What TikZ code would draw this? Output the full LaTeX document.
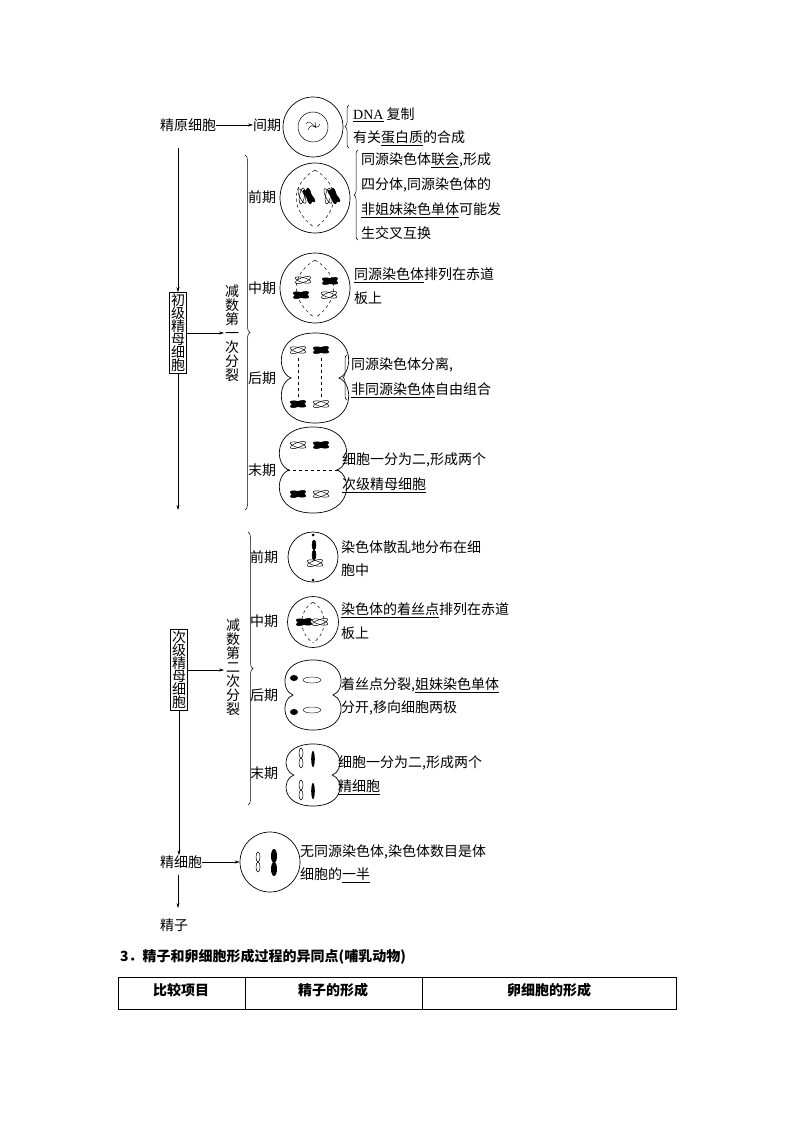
\documentclass[tikz,border=0pt]{standalone}
\usepackage{fontspec}
\setmainfont{Noto Sans CJK SC}
\newfontfamily\latinf{Liberation Serif}
\usetikzlibrary{arrows.meta,decorations.pathreplacing}
\newcommand\peanut[4]{\draw[cell] (#1,#2-#4) .. controls (#1+1.35*#3,#2-#4) and (#1+1.3*#3,#2-0.12*#4) .. (#1+0.8*#3,#2) .. controls (#1+1.3*#3,#2+0.12*#4) and (#1+1.35*#3,#2+#4) .. (#1,#2+#4) .. controls (#1-1.35*#3,#2+#4) and (#1-1.3*#3,#2+0.12*#4) .. (#1-0.8*#3,#2) .. controls (#1-1.3*#3,#2-0.12*#4) and (#1-1.35*#3,#2-#4) .. cycle;}
\newcommand\chrX[4]{\begin{scope}[shift={(#1,#2)},rotate=#3]
\draw[#4,line width=0.5pt] (0,0) ellipse (2.5 and 8) ; \draw[#4,line width=0.5pt,rotate=35] (0,0) ellipse (2.5 and 8);
\end{scope}}
\newcommand\chrI[4]{\begin{scope}[shift={(#1,#2)},rotate=#3]
\draw[#4,line width=0.5pt] (0,-5) ellipse (2 and 5); \draw[#4,line width=0.5pt] (0,5) ellipse (2 and 5);
\end{scope}}
\begin{document}
\begin{tikzpicture}[x=1pt,y=-1pt,
  txt/.style={font=\fontsize{14}{16}\selectfont,inner sep=0pt,anchor=west},
  cell/.style={draw,line width=0.7pt},
  spin/.style={dashed,line width=0.5pt},
  arr/.style={-{Stealth[length=5pt,width=3pt]},line width=0.5pt},
  brc/.style={decorate,decoration={brace,amplitude=4pt,mirror},line width=0.5pt},
  vbox/.style={draw,line width=0.6pt,inner sep=1.5pt,font=\fontsize{14}{16}\selectfont,align=center}]
\useasboundingbox (0,0) rectangle (794,1123);
% --- top
\node[txt] (jy) at (160,125) {精原细胞};
\node[txt] (jq) at (253,125) {间期};
\draw[arr] (jy.east) -- (jq.west);
\node[circle,draw,line width=0.7pt,minimum size=60pt,inner sep=0] (c0) at (313,127) {};
\node[circle,draw,line width=0.5pt,minimum size=30pt,inner sep=0] (c0i) at (313,127) {};
\draw[line width=0.4pt] (306,124) .. controls (310,116) and (316,134) .. (320,124) (308,130) .. controls (313,118) and (318,136) .. (315,122);
\draw[brc] (349,105) -- (349,148);
\node[txt] (t0a) at (353,115) {\underline{\latinf DNA} 复制};
\node[txt] (t0b) at (353,138) {有关\underline{蛋白质}的合成};
% --- primary box
\node[vbox] (b1) at (178,333) {初\\[-3pt]级\\[-3pt]精\\[-3pt]母\\[-3pt]细\\[-3pt]胞};
\coordinate (top1) at (178,148);
\coordinate (bot1) at (178,510);
\draw[arr] (top1) -- (b1.north);
\draw[arr] (b1.south) -- (bot1);
\coordinate (br1) at (224,333);
\draw[arr] (b1.east) -- (br1);
\draw[brc,decoration={amplitude=5pt}] (245,510) -- (245,155);
\node[font=\fontsize{14}{16}\selectfont,align=center,inner sep=0] (m1) at (232,333) {减\\[-2pt]数\\[-2pt]第\\[-2pt]一\\[-2pt]次\\[-2pt]分\\[-2pt]裂};
% prophase I
\node[txt] (l1) at (248,197) {前期};
\node[circle,cell,minimum size=70pt,inner sep=0] (c1) at (315,198) {};
\draw[spin] (315,170) .. controls (290,185) and (290,210) .. (315,228) (315,170) .. controls (340,185) and (340,210) .. (315,228);
\chrX{302}{196}{-10}{draw} \chrX{309}{196}{10}{fill}
\chrX{328}{196}{-10}{draw} \chrX{334}{196}{10}{fill}
\draw[brc,decoration={amplitude=4pt,mirror}] (358,150) -- (358,240);
\node[txt] (t1a) at (361,160) {同源染色体\underline{联会},形成};
\node[txt] (t1b) at (361,185) {四分体,同源染色体的};
\node[txt] (t1c) at (361,210) {\underline{非姐妹染色单体}可能发};
\node[txt] (t1d) at (361,233) {生交叉互换};
% metaphase I
\node[txt] (l2) at (248,288) {中期};
\node[circle,cell,minimum size=70pt,inner sep=0] (c2) at (315,288) {};
\draw[spin] (315,260) .. controls (290,275) and (290,300) .. (315,318) (315,260) .. controls (340,275) and (340,300) .. (315,318);
\chrX{303}{280}{75}{draw} \chrX{330}{281}{75}{fill}
\chrX{301}{295}{75}{fill} \chrX{329}{295}{75}{draw}
\node[txt] (t2a) at (354,275) {\underline{同源染色体}排列在赤道};
\node[txt] (t2b) at (354,298) {板上};
% anaphase I
\node[txt] (l3) at (248,378) {后期};
\peanut{315}{378}{30}{45}
\chrX{298}{350}{75}{draw} \chrX{321}{350}{75}{fill}
\chrX{298}{404}{75}{fill} \chrX{321}{404}{75}{draw}
\draw[spin] (298,358) -- (298,398) (321,358) -- (321,398);
\draw[brc] (347,355) -- (347,400);
\node[txt] (t3a) at (351,365) {同源染色体分离,};
\node[txt] (t3b) at (351,390) {\underline{非同源染色体}自由组合};
% telophase I
\node[txt] (l4) at (248,470) {末期};
\peanut{313}{470}{30}{43}
\draw[spin] (287,470) -- (339,470);
\chrX{298}{445}{75}{draw} \chrX{321}{445}{75}{fill}
\chrX{298}{494}{75}{fill} \chrX{321}{494}{75}{draw}
\node[txt] (t4a) at (342,460) {细胞一分为二,形成两个};
\node[txt] (t4b) at (342,485) {\underline{次级精母细胞}};
% --- secondary box
\node[vbox] (b2) at (179,670) {次\\[-3pt]级\\[-3pt]精\\[-3pt]母\\[-3pt]细\\[-3pt]胞};
\coordinate (br2) at (224,670);
\draw[arr] (b2.east) -- (br2);
\draw[brc,decoration={amplitude=5pt}] (248,805) -- (248,532);
\node[font=\fontsize{14}{16}\selectfont,align=center,inner sep=0] (m2) at (233,667) {减\\[-2pt]数\\[-2pt]第\\[-2pt]二\\[-2pt]次\\[-2pt]分\\[-2pt]裂};
% prophase II
\node[txt] (l5) at (250,557) {前期};
\node[circle,cell,minimum size=50pt,inner sep=0] (c5) at (313,557) {};
\fill (313,535) circle (1.5); \fill (313,580) circle (1.5);
\chrI{314}{550}{0}{fill} \chrX{315}{563}{75}{draw}
\node[txt] (t5a) at (341,547) {染色体散乱地分布在细};
\node[txt] (t5b) at (341,570) {胞中};
% metaphase II
\node[txt] (l6) at (250,621) {中期};
\node[circle,cell,minimum size=51pt,inner sep=0] (c6) at (313,622) {};
\draw[spin] (313,602) .. controls (298,612) and (298,632) .. (313,643) (313,602) .. controls (328,612) and (328,632) .. (313,643);
\chrX{304}{622}{75}{fill} \chrX{320}{622}{75}{draw}
\node[txt] (t6a) at (341,610) {\underline{染色体的着丝点}排列在赤道};
\node[txt] (t6b) at (341,633) {板上};
% anaphase II
\node[txt] (l7) at (250,695) {后期};
\peanut{313}{695}{25}{35}
\fill (294,678) ellipse (4 and 3); \draw (312,680) ellipse (9 and 3);
\fill (294,712) ellipse (4 and 3); \draw (312,710) ellipse (9 and 3);
\node[txt] (t7a) at (341,685) {着丝点分裂,\underline{姐妹染色单体}};
\node[txt] (t7b) at (341,708) {分开,移向细胞两极};
% telophase II
\node[txt] (l8) at (250,773) {末期};
\peanut{313}{775}{24}{31}
\chrI{301}{758}{0}{draw} \fill (313,759) ellipse (1.8 and 8);
\chrI{301}{790}{0}{draw} \fill (313,791) ellipse (1.8 and 8);
\node[txt] (t8a) at (338,763) {细胞一分为二,形成两个};
\node[txt] (t8b) at (338,787) {\underline{精细胞}};
% --- sperm cell
\node[txt] (jx) at (160,862) {精细胞};
\draw[arr] (b2.south) -- (jx.north -| b2.south);
\node[circle,cell,minimum size=60pt,inner sep=0] (c9) at (270,862) {};
\draw[arr] (jx.east) -- (c9.west);
\chrI{258}{862}{0}{draw} \fill (274,856) ellipse (3 and 7); \fill (274,869) ellipse (3 and 7);
\node[txt] (t9a) at (300,852) {无同源染色体,染色体数目是体};
\node[txt] (t9b) at (300,875) {细胞的\underline{一半}};
\node[txt] (jz) at (160,925) {精子};
\coordinate (a9) at (178,875);
\draw[arr] (a9) -- (178,908);
% --- section 3
\node[txt,font=\bfseries\fontsize{14}{16}\selectfont] (s3) at (120,957) {3．精子和卵细胞形成过程的异同点(哺乳动物)};
\draw[line width=0.7pt] (118,977) rectangle (676,1009) (245,977) -- (245,1009) (422,977) -- (422,1009);
\node[font=\bfseries\fontsize{14}{16}\selectfont] (h1) at (181,990) {比较项目};
\node[font=\bfseries\fontsize{14}{16}\selectfont] (h2) at (333,990) {精子的形成};
\node[font=\bfseries\fontsize{14}{16}\selectfont] (h3) at (549,990) {卵细胞的形成};
\end{tikzpicture}
\end{document}
